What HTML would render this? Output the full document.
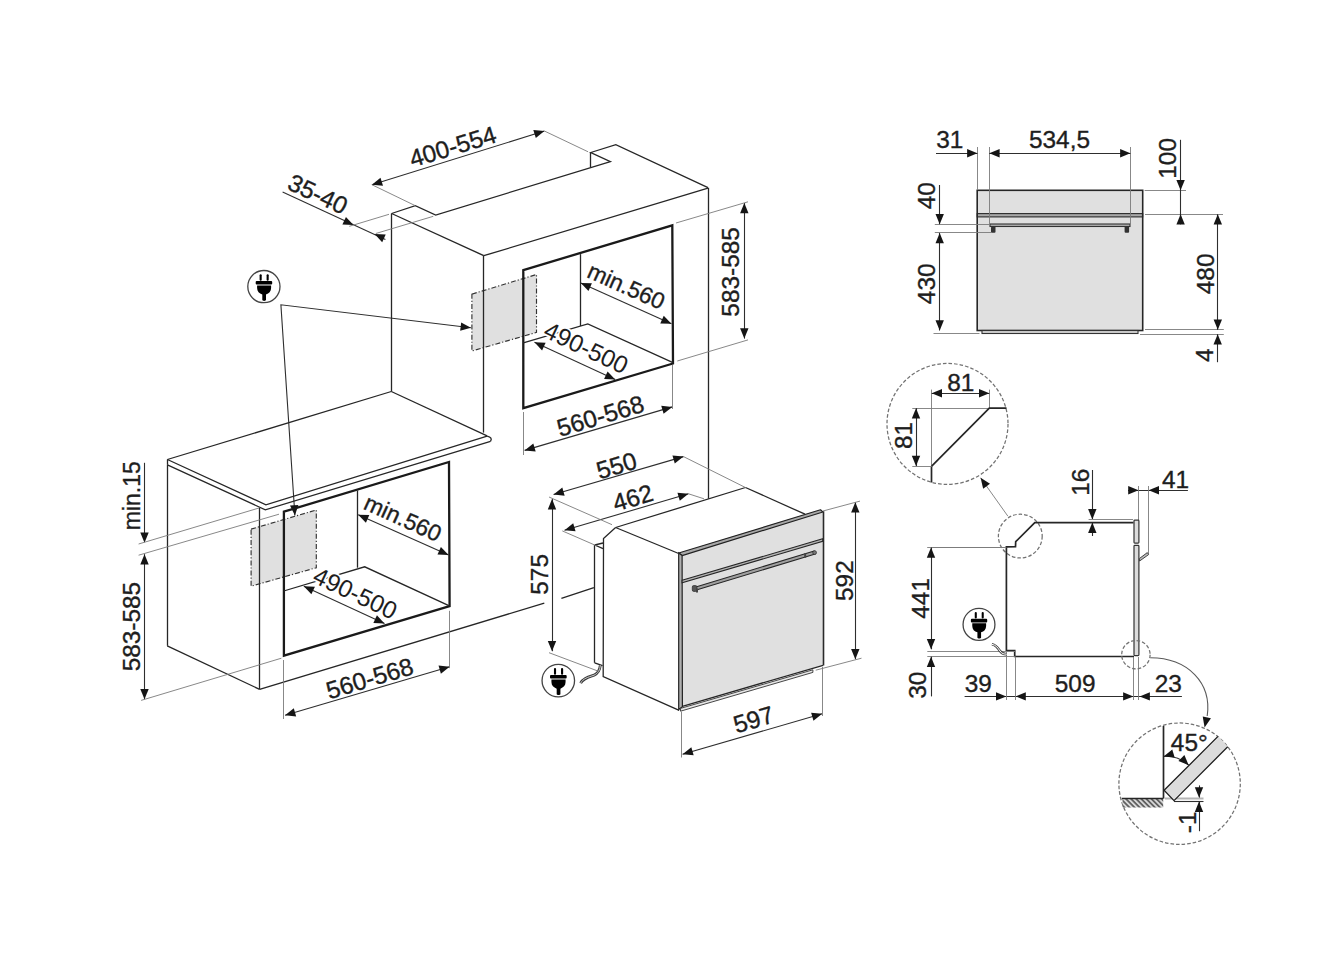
<!DOCTYPE html>
<html><head><meta charset="utf-8"><style>
html,body{margin:0;padding:0;background:#fff;}
svg{display:block;}
text{font-family:"Liberation Sans",sans-serif;fill:#1e1e1e;stroke:#1e1e1e;stroke-width:0.35;}
.m{stroke:#262626;stroke-width:1.3;fill:none;stroke-linejoin:miter;}
.t{stroke:#1a1a1a;stroke-width:2.3;fill:none;}
.d{stroke:#2e2e2e;stroke-width:1.1;fill:none;}
.e{stroke:#7a7a7a;stroke-width:0.9;fill:none;}
.g{stroke:#333;stroke-width:1.15;stroke-dasharray:5 2 1.2 2;fill:#e0e0e0;}
.dash{stroke:#727272;stroke-width:1.25;stroke-dasharray:3.6 2;fill:none;}
.fill1{fill:#e0e0e0;stroke:none;}
.halo{stroke:#fff;stroke-width:3.5;paint-order:stroke;}
.t2{stroke:#2a2a2a;stroke-width:1.6;fill:none;}
.p{stroke:#262626;stroke-width:1.7;fill:none;}
.e2{stroke:#b5b5b5;stroke-width:1.8;fill:none;}
.h{stroke:#333;stroke-width:3;stroke-linecap:round;fill:none;}
.h2{stroke:#333;stroke-width:2.2;stroke-linecap:round;fill:none;}
</style></head><body>
<svg width="1329" height="967" viewBox="0 0 1329 967">
<defs><pattern id="hatch" width="3.6" height="3.6" patternUnits="userSpaceOnUse" patternTransform="rotate(-45)"><rect width="3.6" height="3.6" fill="#d8d8d8"/><line x1="0.9" y1="0" x2="0.9" y2="3.6" stroke="#333" stroke-width="1.3"/></pattern><clipPath id="c2"><circle cx="1179.6" cy="783.7" r="60.7"/></clipPath></defs>
<polygon class="g" points="471.9,294.1 536.5,274.5 536.5,332.4 471.9,351"/>
<polygon class="g" points="251.1,529.1 316.3,510 316.3,567.7 251.1,586.2"/>
<line class="m" x1="391.5" y1="213.5" x2="391.5" y2="391.5"/>
<polyline class="m" points="391.6,213.5 415.3,205.7 435.7,215 610.4,161.7 590.8,152.5 615.8,144.7 708,187.7"/>
<line class="m" x1="590.5" y1="152.5" x2="590.5" y2="167.4"/>
<line class="m" x1="391.6" y1="213.5" x2="483.8" y2="255.7"/>
<line class="m" x1="483.5" y1="255.7" x2="483.5" y2="432.6"/>
<line class="m" x1="483.8" y1="255.7" x2="708" y2="188.2"/>
<line class="m" x1="708.5" y1="187.7" x2="708.5" y2="498.8"/>
<polygon class="t" points="523.3,270.1 672.3,225.4 673,363.5 523.3,408.2"/>
<line class="m" x1="580.5" y1="254.1" x2="580.5" y2="326"/>
<polyline class="m" points="523.3,342.8 587.8,324 673,362.6"/>
<g transform="translate(263.9,286.6) scale(1)"><circle cx="0" cy="0" r="16.1" fill="none" stroke="#444" stroke-width="1.3"/><rect x="-4.3" y="-12.4" width="2.1" height="6.5" rx="1"/><rect x="2.7" y="-12.4" width="2.1" height="6.5" rx="1"/><rect x="-8.2" y="-5.6" width="16.5" height="3.6" rx="1"/><path d="M-6.8,-1.2 H7.2 V1.5 C7.2,5 5,7 2.1,8 V13.5 C2.1,14.6 -1.6,14.6 -1.6,13.5 V8 C-4.6,7 -6.8,5 -6.8,1.5 Z"/></g>
<polyline class="d" points="294.9,515.5 280.9,304.8 470.9,327.8"/>
<polygon fill="#151515" points="470.9,327.8 460.17,330.73 461.18,322.39"/>
<polygon fill="#151515" points="294.9,515.5 290.03,505.5 298.41,504.94"/>
<line class="m" x1="167.4" y1="459.5" x2="391.3" y2="391.5"/>
<line class="m" x1="391.3" y1="391.5" x2="487.1" y2="435.8"/>
<polyline class="m" points="167.4,459.5 265.9,504.8 487.1,436.1"/>
<polyline class="m" points="167.4,464.8 265.3,509.8 490.5,441.3"/>
<path class="m" d="M487.1,436.1 Q493,437.5 490.5,441.3"/>
<line class="m" x1="167.5" y1="459.5" x2="167.5" y2="464.8"/>
<line class="m" x1="167.5" y1="464.8" x2="167.5" y2="645.8"/>
<line class="m" x1="167.2" y1="645.8" x2="259.6" y2="689.3"/>
<line class="m" x1="259.5" y1="508" x2="259.5" y2="689.3"/>
<line class="m" x1="259.6" y1="689.3" x2="544.3" y2="603.1"/>
<line class="m" x1="561.4" y1="598.4" x2="593.9" y2="587.6"/>
<polygon class="t" points="283.9,511.7 449,462 449.6,606.2 283.9,655.7"/>
<line class="m" x1="357.5" y1="490.5" x2="357.5" y2="567.7"/>
<polyline class="m" points="283.7,591 364.7,566.8 449.4,605.9"/>
<line class="m" x1="594.8" y1="545" x2="603" y2="543"/>
<line class="m" x1="594.8" y1="545" x2="603" y2="548.6"/>
<line class="m" x1="594.5" y1="545" x2="594.5" y2="662.8"/>
<line class="m" x1="594.6" y1="662.8" x2="602.5" y2="665.7"/>
<polyline class="m" points="615.6,527.5 603.5,538.6 603.2,676.6 679.2,710.4"/>
<line class="m" x1="615.6" y1="527.5" x2="745.5" y2="487.5"/>
<line class="m" x1="745.5" y1="487.5" x2="805" y2="514.2"/>
<line class="m" x1="615.6" y1="527.5" x2="678.7" y2="553.5"/>
<polygon fill="#e0e0e0" points="678.7,553 820.5,509.8 823.1,511.5 823.1,665.3 682.4,706.3 678.7,707.6"/>
<polygon fill="#a8a8a8" stroke="#222" stroke-width="1.2" stroke-linejoin="round" points="678.7,553 820.5,509.8 822.9,512.0 682.1,555.6"/>
<polygon fill="#b0b0b0" stroke="#222" stroke-width="1.2" points="678.7,553 682.1,555.6 682.4,706.6 678.7,709.5"/>
<line class="t2" x1="823.5" y1="511.2" x2="823.5" y2="665.5"/>
<polygon fill="#b4b4b4" stroke="#262626" stroke-width="1.1" points="682.1,580.3 822.7,538.8 822.7,541.3 682.1,582.8"/>
<line class="m" x1="682.4" y1="706.3" x2="823.1" y2="665.3"/>
<polygon fill="#e6e6e6" stroke="#333" stroke-width="0.9" points="680.5,708.4 812.9,669.8 812.9,672.4 680.5,711.2"/>
<polygon fill="#a0a0a0" stroke="#262626" stroke-width="1.1" stroke-linejoin="round" points="695,587.2 814.2,551.0 815.2,554.0 695.5,590.2"/>
<rect x="692.3" y="585.6" width="4.6" height="5.8" rx="1.4" fill="#555" stroke="#333" stroke-width="0.8"/>
<circle cx="814.6" cy="552.6" r="1.9" fill="#777" stroke="#333" stroke-width="0.8"/>
<rect x="804.2" y="553.2" width="2" height="4.5" fill="#444"/>
<rect x="696.0" y="588.5" width="2" height="4.0" fill="#444"/>
<path d="M600.3,665.3 C599.8,670 598.5,673 594,675.2 C588,677.2 583,678.5 580.6,683.2" fill="none" stroke="#3a3a3a" stroke-width="2.8"/>
<path d="M600.3,665.3 C599.8,670 598.5,673 594,675.2 C588,677.2 583,678.5 580.6,683.2" fill="none" stroke="#ccc" stroke-width="1.0"/>
<g transform="translate(558.3,680.6) scale(1.01)"><circle cx="0" cy="0" r="16.1" fill="none" stroke="#444" stroke-width="1.3"/><rect x="-4.3" y="-12.4" width="2.1" height="6.5" rx="1"/><rect x="2.7" y="-12.4" width="2.1" height="6.5" rx="1"/><rect x="-8.2" y="-5.6" width="16.5" height="3.6" rx="1"/><path d="M-6.8,-1.2 H7.2 V1.5 C7.2,5 5,7 2.1,8 V13.5 C2.1,14.6 -1.6,14.6 -1.6,13.5 V8 C-4.6,7 -6.8,5 -6.8,1.5 Z"/></g>
<rect class="fill1" x="977.2" y="190.3" width="165.5" height="140.2"/>
<rect style="fill:#a8a8a8;stroke:#2a2a2a;stroke-width:1.1" x="977.2" y="213.6" width="165.5" height="3.3"/>
<rect style="fill:none;stroke:#262626;stroke-width:1.6" x="977.2" y="190.3" width="165.5" height="140.2"/>
<rect style="fill:#d0d0d0;stroke:#333;stroke-width:1.1" x="982" y="330.5" width="156" height="3"/>
<rect style="fill:#b0b0b0;stroke:#333;stroke-width:1.1" x="990" y="224" width="140" height="2.5"/>
<rect fill="#333" x="991" y="226.5" width="4.5" height="6.2" rx="1"/>
<rect fill="#333" x="1124.6" y="226.5" width="4.5" height="6.2" rx="1"/>
<line class="e" x1="977.5" y1="147" x2="977.5" y2="190"/>
<line class="e" x1="989.5" y1="147" x2="989.5" y2="224"/>
<line class="e" x1="1130.5" y1="147" x2="1130.5" y2="224"/>
<line class="d" x1="936" y1="153.5" x2="977.4" y2="153.5"/>
<polygon fill="#151515" points="977.4,153.2 967.1,157.4 967.1,149"/>
<line class="d" x1="989.3" y1="153.5" x2="1130.4" y2="153.5"/>
<polygon fill="#151515" points="989.3,153.2 999.6,149 999.6,157.4"/>
<polygon fill="#151515" points="1130.4,153.2 1120.1,157.4 1120.1,149"/>
<text transform="translate(949.7,139.3) rotate(0)" x="0" y="8.74" font-size="24.4" text-anchor="middle">31</text>
<text transform="translate(1059.5,139.3) rotate(0)" x="0" y="8.74" font-size="24.4" text-anchor="middle">534,5</text>
<line class="e" x1="1144.6" y1="190.5" x2="1186" y2="190.5"/>
<line class="e" x1="1145" y1="214.5" x2="1223" y2="214.5"/>
<line class="d" x1="1180.5" y1="139.8" x2="1180.5" y2="224.2"/>
<polygon fill="#151515" points="1180.6,190.3 1176.4,180 1184.8,180"/>
<line class="d" x1="1180.5" y1="214.3" x2="1180.5" y2="224.2"/>
<polygon fill="#151515" points="1180.6,214.3 1184.8,224.6 1176.4,224.6"/>
<text transform="translate(1167,158.4) rotate(-90)" x="0" y="8.74" font-size="24.4" text-anchor="middle">100</text>
<line class="e" x1="934.8" y1="224.5" x2="989.4" y2="224.5"/>
<line class="e" x1="934.8" y1="232.5" x2="992" y2="232.5"/>
<line class="d" x1="939.5" y1="185" x2="939.5" y2="224.2"/>
<polygon fill="#151515" points="939.7,224.2 935.5,213.9 943.9,213.9"/>
<line class="d" x1="939.5" y1="232.9" x2="939.5" y2="330.5"/>
<polygon fill="#151515" points="939.7,232.9 943.9,243.2 935.5,243.2"/>
<polygon fill="#151515" points="939.7,330.5 935.5,320.2 943.9,320.2"/>
<line class="e" x1="933.5" y1="333.5" x2="979.5" y2="333.5"/>
<text transform="translate(926.1,195.7) rotate(-90)" x="0" y="8.74" font-size="24.4" text-anchor="middle">40</text>
<text transform="translate(926.1,283.8) rotate(-90)" x="0" y="8.74" font-size="24.4" text-anchor="middle">430</text>
<line class="e" x1="1145" y1="329.5" x2="1223.8" y2="329.5"/>
<line class="e" x1="1140" y1="334.5" x2="1223.8" y2="334.5"/>
<line class="d" x1="1217.5" y1="214.3" x2="1217.5" y2="329.8"/>
<polygon fill="#151515" points="1217.8,214.3 1222,224.6 1213.6,224.6"/>
<polygon fill="#151515" points="1217.8,329.8 1213.6,319.5 1222,319.5"/>
<line class="d" x1="1217.5" y1="334.2" x2="1217.5" y2="362.2"/>
<polygon fill="#151515" points="1217.7,334.2 1221.9,344.5 1213.5,344.5"/>
<text transform="translate(1205.4,273.9) rotate(-90)" x="0" y="8.74" font-size="24.4" text-anchor="middle">480</text>
<text transform="translate(1204.3,355.3) rotate(-90)" x="0" y="8.74" font-size="24.4" text-anchor="middle">4</text>
<circle class="dash" cx="947.5" cy="423.9" r="60.5"/>
<line class="e" x1="931.5" y1="389.6" x2="931.5" y2="466.1"/>
<line class="p" x1="931.5" y1="466.1" x2="931.5" y2="482.5"/>
<line class="e" x1="912.3" y1="408.5" x2="989.3" y2="408.5"/>
<line class="e" x1="989.5" y1="389.6" x2="989.5" y2="408.2"/>
<polyline class="p" points="931.7,466.1 989.3,408.2 1006.5,408.2"/>
<line class="e" x1="912.3" y1="466.5" x2="931.7" y2="466.5"/>
<line class="d" x1="931.7" y1="393.5" x2="989.3" y2="393.5"/>
<polygon fill="#151515" points="931.7,393.3 942,389.1 942,397.5"/>
<polygon fill="#151515" points="989.3,393.3 979,397.5 979,389.1"/>
<line class="d" x1="916.5" y1="408.2" x2="916.5" y2="466.1"/>
<polygon fill="#151515" points="916,408.2 920.2,418.5 911.8,418.5"/>
<polygon fill="#151515" points="916,466.1 911.8,455.8 920.2,455.8"/>
<text transform="translate(960.7,382.1) rotate(0)" x="0" y="8.74" font-size="24.4" text-anchor="middle">81</text>
<text transform="translate(903.6,435.5) rotate(-90)" x="0" y="8.74" font-size="24.4" text-anchor="middle">81</text>
<line class="e" x1="1007.9" y1="516.2" x2="980.6" y2="477.8"/>
<polygon fill="#151515" points="980.6,477.8 989.99,483.76 983.15,488.63"/>
<circle class="dash" cx="1020.3" cy="536.1" r="21.9"/>
<polyline class="p" points="1133.5,522.6 1034.8,522.6 1015.7,541.7 1015.5,546.6 1006.4,546.9 1006.4,650.5 1014.7,650.5 1014.7,656.5 1134,656.5"/>
<line class="e" x1="927.2" y1="547.5" x2="1006.4" y2="547.5"/>
<line class="e" x1="932.3" y1="547.5" x2="1004.3" y2="547.5"/>
<line class="d" x1="931.5" y1="547.5" x2="931.5" y2="649.3"/>
<polygon fill="#151515" points="931,547.5 935.2,557.8 926.8,557.8"/>
<polygon fill="#151515" points="931,649.3 926.8,639 935.2,639"/>
<line class="e" x1="927.3" y1="651.5" x2="1015.5" y2="651.5"/>
<line class="e" x1="927.3" y1="656.5" x2="1015.5" y2="656.5"/>
<line class="d" x1="931.5" y1="656.7" x2="931.5" y2="696.4"/>
<polygon fill="#151515" points="931,656.7 935.2,667 926.8,667"/>
<text transform="translate(919.9,598.4) rotate(-90)" x="0" y="8.74" font-size="24.4" text-anchor="middle">441</text>
<text transform="translate(917.4,685.3) rotate(-90)" x="0" y="8.74" font-size="24.4" text-anchor="middle">30</text>
<line class="d" x1="1092.5" y1="470" x2="1092.5" y2="519"/>
<polygon fill="#151515" points="1092.3,519.4 1088.1,509.1 1096.5,509.1"/>
<line class="d" x1="1092.5" y1="522.6" x2="1092.5" y2="536"/>
<polygon fill="#151515" points="1092.3,522.6 1096.5,532.9 1088.1,532.9"/>
<line class="e" x1="1088.6" y1="519.5" x2="1133" y2="519.5"/>
<text transform="translate(1079.9,482.2) rotate(-90)" x="0" y="8.74" font-size="24.4" text-anchor="middle">16</text>
<line class="d" x1="1128" y1="490.5" x2="1187.9" y2="490.5"/>
<polygon fill="#151515" points="1138.5,490.2 1128.2,494.4 1128.2,486"/>
<polygon fill="#151515" points="1148.7,490.2 1159,486 1159,494.4"/>
<line class="e" x1="1138.5" y1="486" x2="1138.5" y2="520"/>
<line class="e" x1="1148.5" y1="486" x2="1148.5" y2="554"/>
<text transform="translate(1175.5,479) rotate(0)" x="0" y="8.74" font-size="24.4" text-anchor="middle">41</text>
<rect style="fill:#dcdcdc;stroke:#333;stroke-width:1.2" x="1134" y="520.2" width="4.9" height="22.9" rx="0.8"/>
<rect style="fill:#dcdcdc;stroke:#333;stroke-width:1.2" x="1134" y="545.4" width="4.9" height="110.2" rx="0.8"/>
<polygon style="fill:#bbb;stroke:#333;stroke-width:0.9" points="1139.3,558.6 1147.3,552.6 1148.6,554.6 1139.6,561"/>
<line class="d" x1="964.6" y1="696.5" x2="1181.9" y2="696.5"/>
<polygon fill="#151515" points="1006.3,696.4 996,700.6 996,692.2"/>
<polygon fill="#151515" points="1015.5,696.4 1025.8,692.2 1025.8,700.6"/>
<polygon fill="#151515" points="1133.4,696.4 1123.1,700.6 1123.1,692.2"/>
<polygon fill="#151515" points="1139.6,696.4 1149.9,692.2 1149.9,700.6"/>
<line class="e" x1="1006.5" y1="652" x2="1006.5" y2="700"/>
<line class="e" x1="1015.5" y1="657" x2="1015.5" y2="700"/>
<line class="e" x1="1133.5" y1="657" x2="1133.5" y2="700"/>
<line class="e" x1="1138.5" y1="657" x2="1138.5" y2="700"/>
<text transform="translate(978.2,683.2) rotate(0)" x="0" y="8.74" font-size="24.4" text-anchor="middle">39</text>
<text transform="translate(1075.1,683.2) rotate(0)" x="0" y="8.74" font-size="24.4" text-anchor="middle">509</text>
<text transform="translate(1168.2,683.2) rotate(0)" x="0" y="8.74" font-size="24.4" text-anchor="middle">23</text>
<g transform="translate(979,624.4) scale(0.99)"><circle cx="0" cy="0" r="16.1" fill="none" stroke="#444" stroke-width="1.3"/><rect x="-4.3" y="-12.4" width="2.1" height="6.5" rx="1"/><rect x="2.7" y="-12.4" width="2.1" height="6.5" rx="1"/><rect x="-8.2" y="-5.6" width="16.5" height="3.6" rx="1"/><path d="M-6.8,-1.2 H7.2 V1.5 C7.2,5 5,7 2.1,8 V13.5 C2.1,14.6 -1.6,14.6 -1.6,13.5 V8 C-4.6,7 -6.8,5 -6.8,1.5 Z"/></g>
<path d="M991.9,644.3 C996,645 998,648 1000,651 C1002,654 1004,654 1006.8,654.2" fill="none" stroke="#444" stroke-width="2.6"/>
<path d="M991.9,644.3 C996,645 998,648 1000,651 C1002,654 1004,654 1006.8,654.2" fill="none" stroke="#fff" stroke-width="1"/>
<circle class="dash" cx="1135.9" cy="654.7" r="14.2"/>
<path d="M1150.3,657.8 C1188,658 1212,683 1207.2,716" fill="none" stroke="#5a5a5a" stroke-width="1.1"/>
<polygon fill="#151515" points="1204.6,727.5 1202.73,716.53 1210.93,718.36"/>
<circle class="dash" cx="1179.6" cy="783.7" r="60.7"/>
<line class="e2" x1="1165" y1="798.5" x2="1203.5" y2="798.5"/>
<polygon clip-path="url(#c2)" fill="#dcdcdc" stroke="#1e1e1e" stroke-width="1.3" points="1164.1,790.3 1222,732.4 1232,742.5 1174,800.6"/>
<rect x="1122.5" y="798.6" width="40.7" height="8.9" fill="url(#hatch)"/>
<line class="p" x1="1163.5" y1="725.9" x2="1163.5" y2="798.6"/>
<line class="p" x1="1121.8" y1="798.5" x2="1163.2" y2="798.5"/>
<line class="d" x1="1174" y1="801.5" x2="1203.5" y2="801.5"/>
<line class="d" x1="1199.5" y1="785.4" x2="1199.5" y2="797.6"/>
<polygon fill="#151515" points="1199,797.6 1194.8,787.3 1203.2,787.3"/>
<line class="d" x1="1199.5" y1="801.6" x2="1199.5" y2="831.2"/>
<polygon fill="#151515" points="1199,801.6 1203.2,811.9 1194.8,811.9"/>
<text transform="translate(1187.6,822.4) rotate(-90)" x="0" y="8.74" font-size="24.4" text-anchor="middle">-1</text>
<path class="d" d="M1163.6,756.4 A34,34 0 0 1 1188.7,765.2" fill="none"/>
<polygon fill="#151515" points="1163.6,756.4 1172.27,749.43 1174.67,757.48"/>
<polygon fill="#151515" points="1188.7,765.2 1178.45,760.89 1184.39,754.95"/>
<text transform="translate(1189.3,742.4) rotate(0)" x="0" y="8.74" font-size="24.4" text-anchor="middle">45°</text>
<line class="d" x1="371.9" y1="184.7" x2="544.4" y2="131"/>
<polygon fill="#151515" points="371.9,184.7 380.49,177.63 382.98,185.65"/>
<polygon fill="#151515" points="544.4,131 535.81,138.07 533.32,130.05"/>
<line class="e" x1="371.9" y1="184.7" x2="415.3" y2="205.7"/>
<line class="e" x1="544.4" y1="131" x2="588.1" y2="151.8"/>
<text transform="translate(452.7,146.3) rotate(-16.8)" x="0" y="8.74" font-size="24.4" text-anchor="middle">400-554</text>
<line class="d" x1="282.6" y1="191.9" x2="385.4" y2="239.5"/>
<polygon fill="#151515" points="353.5,225.1 342.39,224.54 345.95,216.93"/>
<polygon fill="#151515" points="374.6,234.1 385.71,234.61 382.19,242.24"/>
<line class="e" x1="349.3" y1="226.3" x2="389" y2="214.3"/>
<line class="e" x1="375.8" y1="233.5" x2="433.3" y2="216.3"/>
<text transform="translate(318,193.8) rotate(25.3)" x="0" y="8.74" font-size="24.4" text-anchor="middle">35-40</text>
<line class="d" x1="744.5" y1="203" x2="744.5" y2="338.6"/>
<polygon fill="#151515" points="744.3,203 748.5,213.3 740.1,213.3"/>
<polygon fill="#151515" points="744.3,338.6 740.1,328.3 748.5,328.3"/>
<line class="e" x1="676" y1="223" x2="748" y2="201.8"/>
<line class="e" x1="677.3" y1="361" x2="748" y2="339.9"/>
<text transform="translate(730.4,271.9) rotate(-90)" x="0" y="8.74" font-size="24.4" text-anchor="middle">583-585</text>
<line class="d" x1="580.8" y1="282.9" x2="671.4" y2="323.8"/>
<polygon fill="#151515" points="580.8,282.9 591.92,283.31 588.46,290.97"/>
<polygon fill="#151515" points="671.4,323.8 660.28,323.39 663.74,315.73"/>
<text transform="translate(626.4,285.9) rotate(24)" x="0" y="8.23" font-size="23" text-anchor="middle">min.560</text>
<line class="d" x1="534.5" y1="342.3" x2="615.2" y2="379.6"/>
<polygon fill="#151515" points="534.5,342.3 545.61,342.81 542.09,350.43"/>
<polygon fill="#151515" points="615.2,379.6 604.09,379.09 607.61,371.47"/>
<text class="halo" transform="translate(586.2,347.5) rotate(25.3)" x="0" y="8.74" font-size="24.4" text-anchor="middle">490-500</text>
<line class="d" x1="524.6" y1="450.4" x2="672.3" y2="406.9"/>
<polygon fill="#151515" points="524.6,450.4 533.29,443.46 535.67,451.52"/>
<polygon fill="#151515" points="672.3,406.9 663.61,413.84 661.23,405.78"/>
<line class="e" x1="523.5" y1="412" x2="523.5" y2="455"/>
<line class="e" x1="672.5" y1="365" x2="672.5" y2="409"/>
<text transform="translate(600.3,415.6) rotate(-16.8)" x="0" y="8.74" font-size="24.4" text-anchor="middle">560-568</text>
<line class="d" x1="144.5" y1="462.8" x2="144.5" y2="541.5"/>
<polygon fill="#151515" points="144.5,542.8 140.3,532.5 148.7,532.5"/>
<line class="d" x1="144.5" y1="554.2" x2="144.5" y2="699.2"/>
<polygon fill="#151515" points="144.5,554.2 148.7,564.5 140.3,564.5"/>
<polygon fill="#151515" points="144.5,699.2 140.3,688.9 148.7,688.9"/>
<line class="e" x1="138.6" y1="544" x2="259" y2="508"/>
<line class="e" x1="138.6" y1="555.2" x2="279" y2="514.2"/>
<line class="e" x1="141.1" y1="700.4" x2="281.4" y2="658.2"/>
<text transform="translate(132.2,495.7) rotate(-90)" x="0" y="8.23" font-size="23" text-anchor="middle">min.15</text>
<text transform="translate(131.3,626.6) rotate(-90)" x="0" y="8.74" font-size="24.4" text-anchor="middle">583-585</text>
<line class="d" x1="358.2" y1="514.7" x2="448.6" y2="554.9"/>
<polygon fill="#151515" points="358.2,514.7 369.32,515.05 365.9,522.72"/>
<polygon fill="#151515" points="448.6,554.9 437.48,554.55 440.9,546.88"/>
<text transform="translate(403,517.9) rotate(24.5)" x="0" y="8.23" font-size="23" text-anchor="middle">min.560</text>
<line class="d" x1="303.8" y1="586.2" x2="384.5" y2="623.5"/>
<polygon fill="#151515" points="303.8,586.2 314.91,586.71 311.39,594.33"/>
<polygon fill="#151515" points="384.5,623.5 373.39,622.99 376.91,615.37"/>
<text class="halo" transform="translate(355.4,592.9) rotate(25.3)" x="0" y="8.74" font-size="24.4" text-anchor="middle">490-500</text>
<line class="d" x1="285.1" y1="715.3" x2="449.6" y2="666.7"/>
<polygon fill="#151515" points="285.1,715.3 293.79,708.35 296.17,716.41"/>
<polygon fill="#151515" points="449.6,666.7 440.91,673.65 438.53,665.59"/>
<line class="e" x1="283.5" y1="660" x2="283.5" y2="719"/>
<line class="e" x1="449.5" y1="610.8" x2="449.5" y2="668.2"/>
<text transform="translate(369.6,678.1) rotate(-16.8)" x="0" y="8.74" font-size="24.4" text-anchor="middle">560-568</text>
<line class="d" x1="553.6" y1="494.5" x2="683.5" y2="456.6"/>
<polygon fill="#151515" points="553.6,494.5 562.31,487.58 564.66,495.65"/>
<polygon fill="#151515" points="683.5,456.6 674.79,463.52 672.44,455.45"/>
<line class="e" x1="683.5" y1="456.6" x2="745.6" y2="487.6"/>
<text transform="translate(616.4,465.3) rotate(-16.8)" x="0" y="8.74" font-size="24.4" text-anchor="middle">550</text>
<line class="d" x1="564.5" y1="530.2" x2="688.5" y2="493.8"/>
<polygon fill="#151515" points="564.5,530.2 573.2,523.27 575.57,531.33"/>
<polygon fill="#151515" points="688.5,493.8 679.8,500.73 677.43,492.67"/>
<line class="e" x1="688.5" y1="493.8" x2="704" y2="498.8"/>
<line class="e" x1="562.3" y1="530.9" x2="597" y2="546"/>
<text transform="translate(632.6,497.6) rotate(-16.8)" x="0" y="8.74" font-size="24.4" text-anchor="middle">462</text>
<line class="e" x1="549" y1="497" x2="612" y2="524.7"/>
<line class="d" x1="552.5" y1="499.1" x2="552.5" y2="651.2"/>
<polygon fill="#151515" points="552,499.1 556.2,509.4 547.8,509.4"/>
<polygon fill="#151515" points="552,651.2 547.8,640.9 556.2,640.9"/>
<line class="e" x1="549" y1="652.7" x2="598.6" y2="671.3"/>
<text transform="translate(539.6,574.4) rotate(-90)" x="0" y="8.74" font-size="24.4" text-anchor="middle">575</text>
<line class="d" x1="855.5" y1="502.3" x2="855.5" y2="659.3"/>
<polygon fill="#151515" points="855.3,502.3 859.5,512.6 851.1,512.6"/>
<polygon fill="#151515" points="855.3,659.3 851.1,649 859.5,649"/>
<line class="e" x1="823" y1="511" x2="860" y2="501.1"/>
<line class="e" x1="815.7" y1="670.2" x2="861.5" y2="658.2"/>
<text transform="translate(844.1,580.6) rotate(-90)" x="0" y="8.74" font-size="24.4" text-anchor="middle">592</text>
<line class="d" x1="682.6" y1="754.2" x2="822.2" y2="713.8"/>
<polygon fill="#151515" points="682.6,754.2 691.33,747.3 693.66,755.37"/>
<polygon fill="#151515" points="822.2,713.8 813.47,720.7 811.14,712.63"/>
<line class="e" x1="681.5" y1="711.6" x2="681.5" y2="757.5"/>
<line class="e" x1="822.5" y1="667" x2="822.5" y2="716"/>
<text transform="translate(753.5,719.3) rotate(-16.8)" x="0" y="8.74" font-size="24.4" text-anchor="middle">597</text>
</svg></body></html>
